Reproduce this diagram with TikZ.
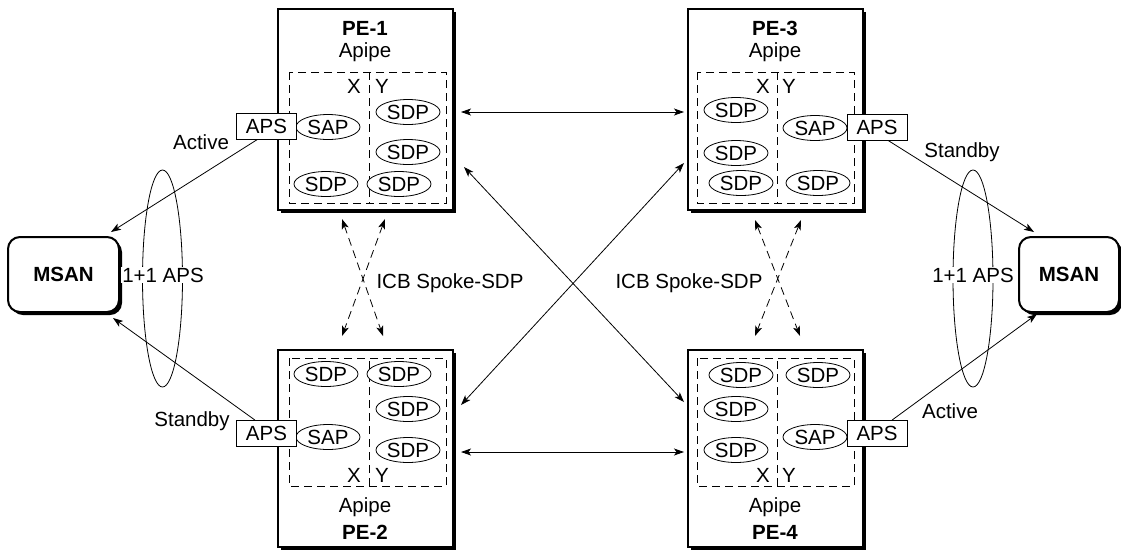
\documentclass[tikz,border=0pt]{standalone}
\usepackage{fontspec}
\setmainfont{Liberation Sans}
\usetikzlibrary{arrows.meta,shadows,calc,shapes.geometric}
\begin{document}
\begin{tikzpicture}[x=1pt,y=-1pt,
  every node/.style={font=\fontsize{20.5}{24}\selectfont},
  shad/.style={drop shadow={shadow xshift=3pt, shadow yshift=-3pt, fill=black, opacity=1}},
  pebox/.style={draw, line width=2pt, fill=white, minimum width=175pt, inner sep=0pt, shad},
  msanbox/.style={draw, line width=2pt, fill=white, rounded corners=12pt, minimum height=75pt, inner sep=0pt, shad, font=\fontsize{20.5}{24}\selectfont\bfseries},
  dashbox/.style={draw, line width=0.8pt, dash pattern=on 8pt off 5pt},
  oval/.style={draw, ellipse, line width=0.8pt, fill=white, minimum width=64pt, minimum height=25pt, inner sep=0pt},
  apsbox/.style={draw, line width=0.8pt, fill=white, minimum width=60pt, minimum height=26pt, inner sep=0pt},
  title/.style={font=\fontsize{20.5}{24}\selectfont\bfseries},
  lbl/.style={inner sep=1pt},
  arr/.style={line width=0.8pt, {Stealth[length=10pt,width=7pt,inset=2.5pt]}-{Stealth[length=10pt,width=7pt,inset=2.5pt]}},
  arrone/.style={line width=0.8pt, -{Stealth[length=10pt,width=7pt,inset=2.5pt]}},
  icb/.style={arr, dash pattern=on 8pt off 5pt},
  apsoval/.style={draw, ellipse, line width=0.8pt, minimum width=40pt, minimum height=217pt, inner sep=0pt}
]
\useasboundingbox (0,0) rectangle (1121,550);

% PE boxes
\node[pebox, minimum height=201pt] (pe1) at (365.5,109.5) {};
\node[pebox, minimum height=201pt] (pe3) at (775.5,109.5) {};
\node[pebox, minimum height=197pt] (pe2) at (365.5,448.5) {};
\node[pebox, minimum height=197pt] (pe4) at (775.5,448.5) {};

% PE-1 contents
\node[title] (t1) at (365,28) {PE-1};
\node (a1) at (365,52) {Apipe};
\draw[dashbox] (289,72) rectangle (446,203);
\draw[dashbox] (369,72) -- (369,203);
\node (x1) at (354,86) {X};
\node (y1) at (382,86) {Y};
\node[oval] (sap1) at (328,127) {SAP};
\node[oval] (s11) at (408,112) {SDP};
\node[oval] (s12) at (408,152) {SDP};
\node[oval] (s13) at (326,184) {SDP};
\node[oval] (s14) at (399,184) {SDP};
\node[apsbox] (aps1) at (266.5,126) {APS};

% PE-3 contents
\node[title] (t3) at (775,28) {PE-3};
\node (a3) at (775,52) {Apipe};
\draw[dashbox] (697,72) rectangle (854,203);
\draw[dashbox] (777,72) -- (777,203);
\node (x3) at (763,86) {X};
\node (y3) at (789,86) {Y};
\node[oval] (s31) at (736,110) {SDP};
\node[oval] (s32) at (736,153) {SDP};
\node[oval] (s33) at (741,183) {SDP};
\node[oval] (s34) at (818,183) {SDP};
\node[oval] (sap3) at (815,128) {SAP};
\node[apsbox] (aps3) at (877,127) {APS};

% PE-2 contents
\draw[dashbox] (289,358) rectangle (446,486);
\draw[dashbox] (369,486) -- (369,358);
\node (x2) at (354,475) {X};
\node (y2) at (382,475) {Y};
\node[oval] (s21) at (326,374) {SDP};
\node[oval] (s22) at (399,374) {SDP};
\node[oval] (s23) at (408,409) {SDP};
\node[oval] (s24) at (408,450) {SDP};
\node[oval] (sap2) at (328,437) {SAP};
\node[apsbox] (aps2) at (266.5,433.5) {APS};
\node (a2) at (365,507) {Apipe};
\node[title] (t2) at (365,532) {PE-2};

% PE-4 contents
\draw[dashbox] (697,358) rectangle (854,486);
\draw[dashbox] (777,486) -- (777,358);
\node (x4) at (763,475) {X};
\node (y4) at (789,475) {Y};
\node[oval] (s41) at (741,375) {SDP};
\node[oval] (s42) at (818,375) {SDP};
\node[oval] (s43) at (736,409) {SDP};
\node[oval] (s44) at (736,450) {SDP};
\node[oval] (sap4) at (815,437) {SAP};
\node[apsbox] (aps4) at (877,433.5) {APS};
\node (a4) at (775,507) {Apipe};
\node[title] (t4) at (775,532) {PE-4};

% MSAN
\node[msanbox, minimum width=111pt] (msanL) at (63.5,274.5) {MSAN};
\node[msanbox, minimum width=100pt] (msanR) at (1069,274.5) {MSAN};

% APS ovals
\node[apsoval] (ovL) at (162.5,278.5) {};
\node[apsoval] (ovR) at (973,278.5) {};
\node[lbl, fill=white] (apsL) at (163,275) {1+1 APS};
\node[lbl, fill=white] (apsR) at (973,275) {1+1 APS};

% access links
\draw[arrone] ($(aps1.south)+(-9,0)$) -- ($(msanL.north east)+(-9,-4)$);
\draw[arrone] ($(aps2.north)+(-11.5,0)$) -- ($(msanL.south east)+(-7,5)$);
\draw[arrone] ($(aps3.south)+(11,0)$) -- ($(msanR.north west)+(16,-4)$);
\draw[arrone] ($(aps4.north)+(15,0)$) -- ($(msanR.south west)+(19,1)$);
\node (act1) at (201,142) {Active};
\node (stb1) at (192,421) {Standby};
\node (stb2) at (962,152) {Standby};
\node (act2) at (950,411) {Active};

% PE to PE links
\draw[arr] ($(pe1.east)+(7,2.5)$) -- ($(pe3.west)+(-3,2.5)$);
\draw[arr] ($(pe2.east)+(7,3.5)$) -- ($(pe4.west)+(-3,3.5)$);
\draw[arr] ($(pe1.east)+(10,57.5)$) -- ($(pe4.west)+(-3,-46.5)$);
\draw[arr] ($(pe2.east)+(7,-43.5)$) -- ($(pe3.west)+(-3,53.5)$);

% ICB spoke SDPs
\draw[icb] ($(pe1.south)+(-23.5,8)$) -- ($(pe2.north)+(17.5,-13)$);
\draw[icb] ($(pe1.south)+(19.5,8)$) -- ($(pe2.north)+(-23.5,-13)$);
\draw[icb] ($(pe3.south)+(-20.5,9)$) -- ($(pe4.north)+(24.5,-13)$);
\draw[icb] ($(pe3.south)+(25.5,9)$) -- ($(pe4.north)+(-20.5,-13)$);
\node (icbL) at (450,283) {ICB Spoke-SDP};
\node (icbR) at (689,283) {ICB Spoke-SDP};
\end{tikzpicture}
\end{document}
